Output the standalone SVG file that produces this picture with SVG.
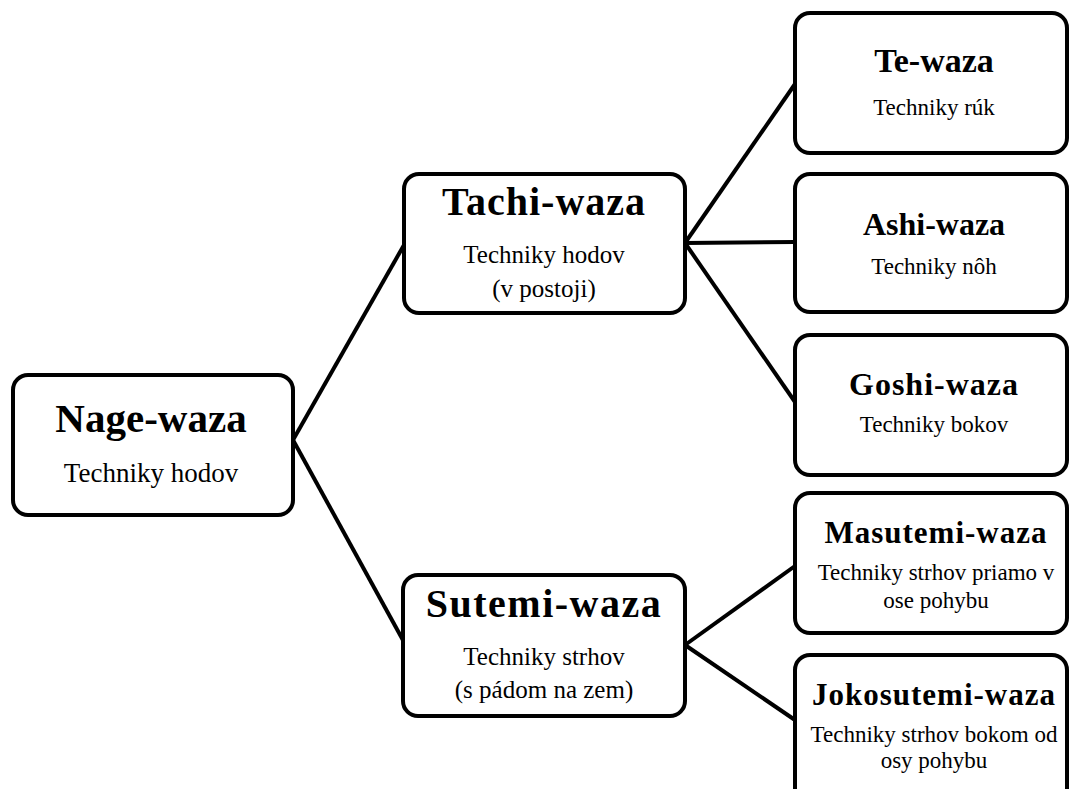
<svg xmlns="http://www.w3.org/2000/svg" width="1070" height="789" viewBox="0 0 1070 789">
<style>
.box{fill:#fff;stroke:#000;stroke-width:4}
.t{font-family:"Liberation Serif",serif;font-weight:bold;text-anchor:middle;fill:#000}
.s{font-family:"Liberation Serif",serif;text-anchor:middle;fill:#000}
.c{stroke:#000;stroke-width:4;fill:none}
</style>
<rect width="1070" height="789" fill="#fff"/>
<g id="connectors">
<line class="c" x1="293" y1="440" x2="404" y2="245"/>
<line class="c" x1="293" y1="440" x2="404" y2="642"/>
<line class="c" x1="685" y1="243" x2="795" y2="84"/>
<line class="c" x1="685" y1="243" x2="795" y2="242"/>
<line class="c" x1="685" y1="243" x2="795" y2="402"/>
<line class="c" x1="685" y1="645" x2="795" y2="566"/>
<line class="c" x1="685" y1="645" x2="795" y2="720"/>
</g>
<g id="nage">
<rect class="box" x="13" y="375" width="280" height="140" rx="15"/>
<text class="t" x="151" y="432" font-size="41">Nage-waza</text>
<text class="s" x="151" y="482" font-size="27">Techniky hodov</text>
</g>
<g id="tachi">
<rect class="box" x="404" y="174" width="281" height="139" rx="15"/>
<text class="t" x="544" y="215" font-size="40" letter-spacing="1">Tachi-waza</text>
<text class="s" x="544" y="263" font-size="25">Techniky hodov</text>
<text class="s" x="544" y="297" font-size="25">(v postoji)</text>
</g>
<g id="sutemi">
<rect class="box" x="403" y="575" width="282" height="141" rx="15"/>
<text class="t" x="544" y="617" font-size="40" letter-spacing="1.5">Sutemi-waza</text>
<text class="s" x="544" y="665" font-size="25">Techniky strhov</text>
<text class="s" x="544" y="698" font-size="25">(s pádom na zem)</text>
</g>
<g id="te">
<rect class="box" x="795" y="13" width="272" height="140" rx="15"/>
<text class="t" x="934" y="72" font-size="34">Te-waza</text>
<text class="s" x="934" y="115" font-size="23">Techniky rúk</text>
</g>
<g id="ashi">
<rect class="box" x="795" y="174" width="272" height="138" rx="15"/>
<text class="t" x="934" y="235" font-size="32">Ashi-waza</text>
<text class="s" x="934" y="274" font-size="23">Techniky nôh</text>
</g>
<g id="goshi">
<rect class="box" x="795" y="335" width="272" height="140" rx="15"/>
<text class="t" x="934" y="395" font-size="32" letter-spacing="1">Goshi-waza</text>
<text class="s" x="934" y="432" font-size="23">Techniky bokov</text>
</g>
<g id="masutemi">
<rect class="box" x="795" y="493" width="272" height="140" rx="15"/>
<text class="t" x="936" y="543" font-size="31" letter-spacing="1">Masutemi-waza</text>
<text class="s" x="936" y="580" font-size="23">Techniky strhov priamo v</text>
<text class="s" x="936" y="608" font-size="23">ose pohybu</text>
</g>
<g id="jokosutemi">
<rect class="box" x="795" y="655" width="272" height="150" rx="15"/>
<text class="t" x="934" y="705" font-size="31" letter-spacing="1">Jokosutemi-waza</text>
<text class="s" x="934" y="742" font-size="23">Techniky strhov bokom od</text>
<text class="s" x="934" y="768" font-size="23">osy pohybu</text>
</g>
</svg>
